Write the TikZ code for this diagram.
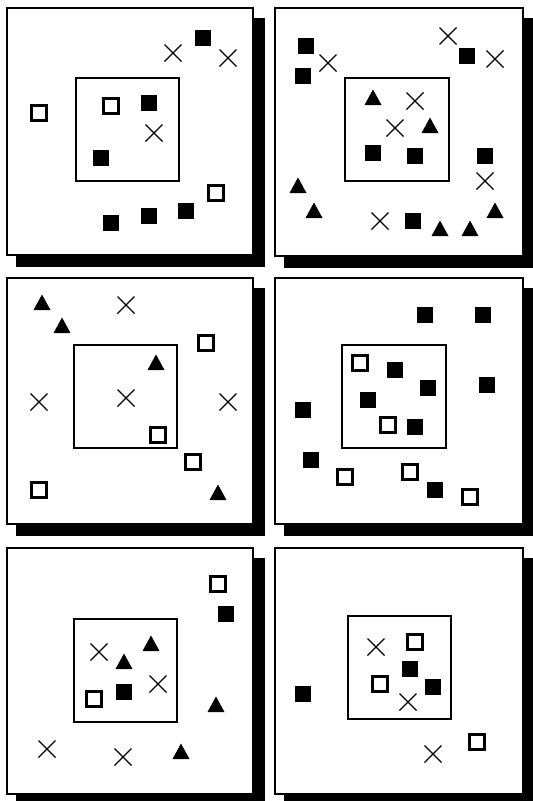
\documentclass[tikz,border=0pt]{standalone}
\begin{document}
\begin{tikzpicture}[x=1pt,y=-1pt,
  panel/.style={draw=black,fill=white,line width=1.8pt},
  shadowbox/.style={fill=black},
  innerbox/.style={draw=black,line width=1.8pt},
  fsq/.pic={\fill[black] (-8.3,-8.3) rectangle (8.3,8.3);},
  osq/.pic={\draw[black,line width=2.3pt,fill=white] (-7.4,-7.4) rectangle (7.4,7.4);},
  tri/.pic={\fill[black] (0,-8.5) -- (8.5,7) -- (-8.5,7) -- cycle;},
  xm/.pic={\draw[black,line width=1.3pt] (-8.5,-8.5) -- (8.5,8.5) (-8.5,8.5) -- (8.5,-8.5);}
]
\useasboundingbox (0,0) rectangle (533,801);
\clip (0,0) rectangle (533,801);
% panels with shadows
\foreach \xa/\ya/\xb/\yb in {7/8/253/255, 275/8/523/256, 7/278/253/524, 275/278/523/524, 7/548/253/794, 275/548/523/794}{
  \fill[shadowbox] (\xa+9,\ya+10) rectangle (\xb+12,\yb+12);
  \draw[panel] (\xa,\ya) rectangle (\xb,\yb);
}
% inner boxes
\draw[innerbox] (76,78) rectangle (179,181);
\draw[innerbox] (345,78) rectangle (449,181);
\draw[innerbox] (74,345) rectangle (177,448);
\draw[innerbox] (342,345) rectangle (446,448);
\draw[innerbox] (74,619) rectangle (177,722);
\draw[innerbox] (348,616) rectangle (451,719);
% panel 1
\foreach \p in {(203,38),(149,103),(101,158),(186,211),(149,216),(111,223)} \pic at \p {fsq};
\foreach \p in {(39,113),(111,106),(216,193)} \pic at \p {osq};
\foreach \p in {(173,53),(228,58),(154,133)} \pic at \p {xm};
% panel 2
\foreach \p in {(306,46),(303,76),(467,56),(373,153),(415,156),(485,156),(413,221)} \pic at \p {fsq};
\foreach \p in {(328,63),(448,36),(495,59),(415,101),(395,128),(485,181),(380,221)} \pic at \p {xm};
\foreach \p in {(373,98),(430,126),(298,186),(314,211),(440,229),(470,229),(495,211)} \pic at \p {tri};
% panel 3
\foreach \p in {(42,303),(62,326),(156,363),(218,493)} \pic at \p {tri};
\foreach \p in {(126,305),(39,402),(126,398),(228,402)} \pic at \p {xm};
\foreach \p in {(206,343),(158,435),(193,462),(39,490)} \pic at \p {osq};
% panel 4
\foreach \p in {(425,315),(483,315),(395,370),(428,388),(487,385),(368,400),(303,410),(415,427),(311,460),(435,490)} \pic at \p {fsq};
\foreach \p in {(360,363),(388,425),(345,477),(410,472),(470,497)} \pic at \p {osq};
% panel 5
\foreach \p in {(218,584),(94,699)} \pic at \p {osq};
\foreach \p in {(226,614),(124,692)} \pic at \p {fsq};
\foreach \p in {(99,652),(158,684),(47,749),(123,757)} \pic at \p {xm};
\foreach \p in {(151,644),(124,662),(216,705),(181,752)} \pic at \p {tri};
% panel 6
\foreach \p in {(376,647),(408,702),(433,754)} \pic at \p {xm};
\foreach \p in {(415,642),(380,684),(477,742)} \pic at \p {osq};
\foreach \p in {(410,669),(433,687),(303,694)} \pic at \p {fsq};
\end{tikzpicture}
\end{document}
